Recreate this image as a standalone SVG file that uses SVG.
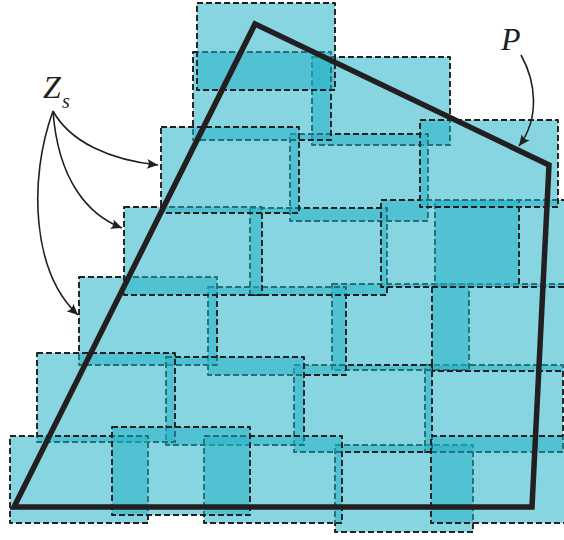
<svg xmlns="http://www.w3.org/2000/svg" width="564" height="540" viewBox="0 0 564 540">
<defs>
<style>
.t{fill:rgb(37,178,198);fill-opacity:0.55;stroke:#231f20;stroke-width:1.9;stroke-dasharray:6 3;stroke-linejoin:round}
.p{fill:none;stroke:#231f20;stroke-width:5.5;stroke-linejoin:miter}
.c{fill:none;stroke:#231f20;stroke-width:1.6}
.l{font-family:"Liberation Serif",serif;font-style:italic;fill:#231f20}
</style>
<marker id="ah" markerUnits="userSpaceOnUse" markerWidth="16" markerHeight="12" viewBox="-12 -6 14 12" refX="0" refY="0" orient="auto">
<path d="M0,0 L-11,-5 Q-7.5,0 -11,5 Z" fill="#231f20"/>
</marker>
</defs>
<g id="tiles">
<g id="F4"><rect class="t" x="335" y="445" width="138" height="87"/></g>
<g id="E4"><rect class="t" x="425" y="365" width="138" height="87"/></g>
<g id="D3"><rect class="t" x="332" y="284" width="137" height="86"/></g>
<g id="D4"><rect class="t" x="432" y="284" width="138" height="87"/></g>
<g id="E3"><rect class="t" x="294" y="365" width="138" height="87"/></g>
<g id="D2"><rect class="t" x="208" y="287" width="138" height="88"/></g>
<g id="D1"><rect class="t" x="79" y="277" width="138" height="88"/></g>
<g id="E2"><rect class="t" x="166" y="357" width="138" height="88"/></g>
<g id="E1"><rect class="t" x="37" y="353" width="138" height="89"/></g>
<g id="F3"><rect class="t" x="204" y="436" width="138" height="87"/></g>
<g id="F1"><rect class="t" x="10" y="436" width="138" height="87"/></g>
<g id="F2"><rect class="t" x="112" y="427" width="138" height="88"/></g>
<g id="F5"><rect class="t" x="431" y="436" width="138" height="87"/></g>
<g id="R3"><rect class="t" x="312" y="57" width="138" height="88"/></g>
<g id="B2"><rect class="t" x="290" y="134" width="138" height="87"/></g>
<g id="C4"><rect class="t" x="435" y="200" width="138" height="87"/></g>
<g id="C2"><rect class="t" x="250" y="208" width="137" height="87"/></g>
<g id="C3"><rect class="t" x="381" y="200" width="138" height="87"/></g>
<g id="C1"><rect class="t" x="124" y="207" width="138" height="88"/></g>
<g id="R2"><rect class="t" x="193" y="52" width="138" height="88"/></g>
<g id="B1"><rect class="t" x="161" y="127" width="138" height="86"/></g>
<g id="B3"><rect class="t" x="420" y="120" width="138" height="87"/></g>
<g id="R1"><rect class="t" x="197" y="3" width="138" height="87"/></g>
</g>
<g id="P"><polygon class="p" points="255,24 549,165 532,507 14,507"/></g>
<g id="connectors">
<path class="c" d="M53,111 C70,142 110,160 158,165" marker-end="url(#ah)"/>
<path class="c" d="M53,111 C58,180 88,215 122,228" marker-end="url(#ah)"/>
<path class="c" d="M53,111 C28,180 32,272 78,315" marker-end="url(#ah)"/>
<path class="c" d="M521,55 C536,82 540,118 519,146" marker-end="url(#ah)"/>
</g>
<g id="labels">
<text class="l" x="43" y="98" font-size="32">Z</text>
<text class="l" x="62" y="108" font-size="20">s</text>
<text class="l" x="501" y="50" font-size="32">P</text>
</g>
</svg>
